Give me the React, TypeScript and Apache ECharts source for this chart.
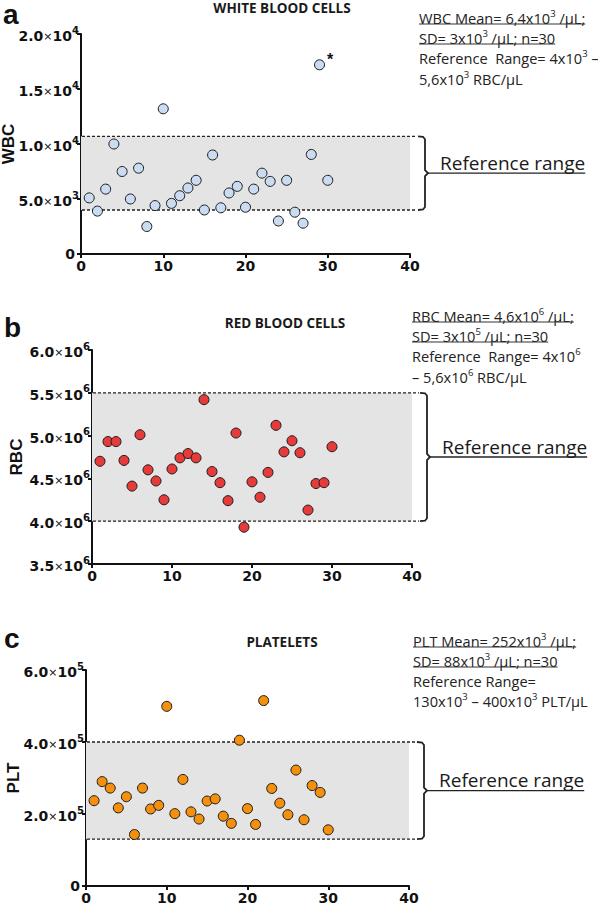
import React, { useEffect, useRef } from "react";
import * as echarts from "echarts";

// ---------- data ----------
const subjects = [1, 2, 3, 4, 5, 6, 7, 8, 9, 10, 11, 12, 13, 14, 15, 16, 17, 18, 19, 20, 21, 22, 23, 24, 25, 26, 27, 28, 29, 30];

const wbc = [5100, 3900, 5900, 10000, 7500, 5000, 7800, 2500, 4400, 13200, 4600, 5300, 6000, 6700, 4000, 9000, 4200, 5550, 6150, 4250, 5900, 7350, 6600, 3000, 6700, 3800, 2800, 9050, 17200, 6700];
const rbc = [4700000, 4930000, 4930000, 4710000, 4410000, 5010000, 4600000, 4470000, 4250000, 4610000, 4740000, 4790000, 4740000, 5420000, 4580000, 4450000, 4240000, 5030000, 3930000, 4460000, 4280000, 4570000, 5120000, 4810000, 4940000, 4800000, 4130000, 4440000, 4450000, 4870000];
const plt = [237000, 290000, 272000, 217000, 248000, 143000, 272000, 214000, 224000, 499000, 201000, 296000, 206000, 186000, 236000, 242000, 194000, 174000, 405000, 215000, 171000, 515000, 271000, 230000, 198000, 322000, 184000, 279000, 260000, 156000];

const wbcRange = [4000, 10700];
const rbcRange = [4000000, 5500000];
const pltRange = [130000, 400000];

const xAxisScale = { min: 0, max: 40, interval: 10 };
const wbcScale = { min: 0, max: 20000, interval: 5000 };
const rbcScale = { min: 3500000, max: 6000000, interval: 500000 };
const pltScale = { min: 0, max: 600000, interval: 200000 };

const outlierIndex = 28; // subject 29 marked with *

const titles = ["WHITE BLOOD CELLS", "RED BLOOD CELLS", "PLATELETS"];
const axisNames = ["WBC", "RBC", "PLT"];
const panelLetters = ["a", "b", "c"];
const rangeLabel = "Reference range";

const wbcNotes = [
  ["WBC Mean= 6,4x10", "^3", " /μL;"],
  ["SD= 3x10", "^3", " /μL; n=30"],
  ["Reference  Range= 4x10", "^3", " –"],
  ["5,6x10", "^3", " RBC/μL"],
];
const rbcNotes = [
  ["RBC Mean= 4,6x10", "^6", " /μL;"],
  ["SD= 3x10", "^5", " /μL; n=30"],
  ["Reference  Range= 4x10", "^6"],
  ["– 5,6x10", "^6", " RBC/μL"],
];
const pltNotes = [
  ["PLT Mean= 252x10", "^3", " /μL;"],
  ["SD= 88x10", "^3", " /μL; n=30"],
  ["Reference Range="],
  ["130x10", "^3", " – 400x10", "^3", " PLT/μL"],
];
const underlined = [true, true, false, false];

// ---------- layout / style ----------
const W = 598;
const H = 906;
const grids = [
  { left: 81, top: 34, width: 329, height: 220 },
  { left: 92, top: 350, width: 320, height: 214 },
  { left: 86, top: 670, width: 323, height: 216 },
];
const colors = ["#cadcf2", "#e53b3b", "#f4900e"];
const nameGaps = [64, 67, 64];
const notePos = [
  { x: 419, ys: [16, 36, 56, 77] },
  { x: 412, ys: [314, 334, 354, 375] },
  { x: 413, ys: [639, 659, 679, 699] },
];
const letterPos = [
  { x: 3, y: 14 },
  { x: 4, y: 327 },
  { x: 4, y: 638 },
];
const titlePos = [
  { x: 282, y: 8 },
  { x: 285, y: 323 },
  { x: 282, y: 642 },
];

const AX_FONT = "DejaVu Sans";
const AX_SIZE = 14;
const NOTE_FONT = "Open Sans";
const NOTE_SIZE = 14.6;
const SUP_SIZE = 9.5;

const sciLabel = (v: number) => {
  if (v === 0) return "{z|0}";
  const e = Math.floor(Math.log10(v) + 1e-9);
  const m = (v / Math.pow(10, e)).toFixed(1);
  return `{n|${m}}{x|×}{n|10}{s|${e}}`;
};

const axisRich = {
  n: { fontFamily: AX_FONT, fontWeight: "bold", fontSize: AX_SIZE, color: "#111", lineHeight: 18, verticalAlign: "bottom" },
  x: { fontFamily: AX_FONT, fontWeight: "normal", fontSize: 11, color: "#111", lineHeight: 16, verticalAlign: "bottom", padding: [0, 0, 1, 0] },
  s: { fontFamily: AX_FONT, fontWeight: "bold", fontSize: 10, color: "#111", lineHeight: 11, verticalAlign: "top" },
  z: { fontFamily: AX_FONT, fontWeight: "bold", fontSize: AX_SIZE, color: "#111", padding: [0, 4, 0, 0] },
};

function buildOption() {
  const datasets = [wbc, rbc, plt];
  const scales = [wbcScale, rbcScale, pltScale];
  const ranges = [wbcRange, rbcRange, pltRange];
  return {
    animation: false,
    backgroundColor: "#ffffff",
    grid: grids.map((g) => ({ ...g, containLabel: false, outerBoundsMode: "none" })),
    xAxis: grids.map((_, i) => ({
      type: "value",
      gridIndex: i,
      ...xAxisScale,
      axisLine: { show: true, onZero: false, lineStyle: { color: "#111", width: 2 } },
      axisTick: { show: true, length: 4, lineStyle: { color: "#111", width: 2 } },
      axisLabel: { fontFamily: AX_FONT, fontWeight: "bold", fontSize: AX_SIZE, color: "#111", margin: 5 },
      splitLine: { show: false },
    })),
    yAxis: grids.map((_, i) => ({
      type: "value",
      gridIndex: i,
      ...scales[i],
      name: axisNames[i],
      nameLocation: "middle",
      nameGap: nameGaps[i],
      nameMoveOverlap: false,
      nameTextStyle: { fontFamily: "Liberation Sans", fontWeight: "bold", fontSize: 17, color: "#111" },
      axisLine: { show: true, onZero: false, lineStyle: { color: "#111", width: 2 } },
      axisTick: { show: true, length: 4, lineStyle: { color: "#111", width: 2 } },
      axisLabel: { formatter: sciLabel, rich: axisRich, margin: 2 },
      splitLine: { show: false },
    })),
    series: datasets.map((vals, i) => ({
      type: "scatter",
      xAxisIndex: i,
      yAxisIndex: i,
      z: 10,
      symbol: "circle",
      symbolSize: 10,
      itemStyle: { color: colors[i], borderColor: "#1a1a1a", borderWidth: 1, opacity: 1 },
      data: subjects.map((s, k) => {
        const item: any = { value: [s, vals[k]] };
        if (i === 0 && k === outlierIndex) {
          item.label = {
            show: true,
            formatter: "*",
            position: "right",
            offset: [-3, -5],
            fontFamily: "Liberation Sans",
            fontWeight: "bold",
            fontSize: 16,
            color: "#111",
          };
        }
        return item;
      }),
      markArea: {
        silent: true,
        z: 1,
        itemStyle: { color: "#e4e4e4" },
        data: [[{ yAxis: ranges[i][0] }, { yAxis: ranges[i][1] }]],
      },
    })),
  };
}

const ctx = typeof document !== "undefined" ? document.createElement("canvas").getContext("2d") : null;
const measure = (s: string, size: number, weight = "normal", family = NOTE_FONT) => {
  if (!ctx) return s.length * size * 0.55;
  ctx.font = `${weight} ${size}px "${family}"`;
  return ctx.measureText(s).width;
};

function buildGraphic(chart: any) {
  const ranges = [wbcRange, rbcRange, pltRange];
  const notes = [wbcNotes, rbcNotes, pltNotes];
  const els: any[] = [];
  grids.forEach((g, i) => {
    const [lo, hi] = ranges[i];
    const pTop = chart.convertToPixel({ gridIndex: i }, [xAxisScale.min, hi]);
    const pBot = chart.convertToPixel({ gridIndex: i }, [xAxisScale.min, lo]);
    const pEnd = chart.convertToPixel({ gridIndex: i }, [xAxisScale.max, lo]);
    const x0 = pTop[0] + 1;
    const x1 = pEnd[0] + 7;
    const yT = pTop[1];
    const yB = pBot[1];
    const mid = (yT + yB) / 2;
    [yT, yB].forEach((yy) => {
      els.push({
        type: "line",
        z: 5,
        silent: true,
        shape: { x1: x0, y1: yy, x2: x1, y2: yy },
        style: { stroke: "#222", lineWidth: 1.3, lineDash: [3, 2] },
      });
    });
    // brace
    const bx = pEnd[0] + 8;
    const vx = bx + 7;
    els.push({
      type: "polyline",
      silent: true,
      shape: {
        points: [
          [bx, yT],
          [vx - 2, yT + 0.5],
          [vx, yT + 3],
          [vx, mid - 3],
          [vx + 3, mid],
          [vx, mid + 3],
          [vx, yB - 3],
          [vx - 2, yB - 0.5],
          [bx, yB],
        ],
      },
      style: { stroke: "#222", lineWidth: 1.8, fill: null },
    });
    const tx = pEnd[0] + 30;
    const tw = measure(rangeLabel, 19);
    els.push({
      type: "line",
      silent: true,
      shape: { x1: vx + 3, y1: mid, x2: tx + tw, y2: mid },
      style: { stroke: "#222", lineWidth: 1.3 },
    });
    els.push({
      type: "text",
      silent: true,
      x: tx,
      y: mid - 1,
      style: {
        text: rangeLabel,
        fontFamily: NOTE_FONT,
        fontSize: 19,
        fill: "#1a1a1a",
        textAlign: "left",
        textVerticalAlign: "bottom",
      },
    });
    // notes
    const np = notePos[i];
    notes[i].forEach((parts, li) => {
      const rich = parts
        .map((p) => (p.startsWith("^") ? `{s|${p.slice(1)}}` : `{t|${p}}`))
        .join("");
      const y = np.ys[li];
      els.push({
        type: "text",
        silent: true,
        x: np.x,
        y,
        style: {
          text: rich,
          textAlign: "left",
          textVerticalAlign: "middle",
          rich: {
            t: { fontFamily: NOTE_FONT, fontSize: NOTE_SIZE, fill: "#222", lineHeight: 18, verticalAlign: "bottom" },
            s: { fontFamily: NOTE_FONT, fontSize: SUP_SIZE, fill: "#222", lineHeight: 11, verticalAlign: "top", padding: [1, 0, 0, 0] },
          },
        },
      });
      if (underlined[li]) {
        const w = parts.reduce(
          (acc, p) => acc + (p.startsWith("^") ? measure(p.slice(1), SUP_SIZE) : measure(p, NOTE_SIZE)),
          0
        );
        els.push({
          type: "line",
          silent: true,
          shape: { x1: np.x, y1: y + 8, x2: np.x + w, y2: y + 8 },
          style: { stroke: "#333", lineWidth: 1 },
        });
      }
    });
    // title
    els.push({
      type: "text",
      silent: true,
      x: titlePos[i].x,
      y: titlePos[i].y,
      style: {
        text: titles[i],
        fontFamily: NOTE_FONT,
        fontWeight: "bold",
        fontSize: 13.5,
        fill: "#1a1a1a",
        textAlign: "center",
        textVerticalAlign: "middle",
      },
    });
    // panel letter
    els.push({
      type: "text",
      silent: true,
      x: letterPos[i].x,
      y: letterPos[i].y,
      style: {
        text: panelLetters[i],
        fontFamily: "Liberation Sans",
        fontWeight: "bold",
        fontSize: 28,
        fill: "#111",
        textAlign: "left",
        textVerticalAlign: "middle",
      },
    });
  });
  return els;
}

export default function App() {
  const ref = useRef<HTMLDivElement>(null);
  useEffect(() => {
    if (!ref.current) return;
    const chart = echarts.init(ref.current, null, { renderer: "svg" });
    chart.setOption(buildOption() as any);
    chart.setOption({ graphic: buildGraphic(chart) } as any);
    return () => chart.dispose();
  }, []);
  return (
    <div
      ref={ref}
      style={{ position: "fixed", left: 0, top: 0, width: W, height: H, background: "#fff" }}
    />
  );
}
